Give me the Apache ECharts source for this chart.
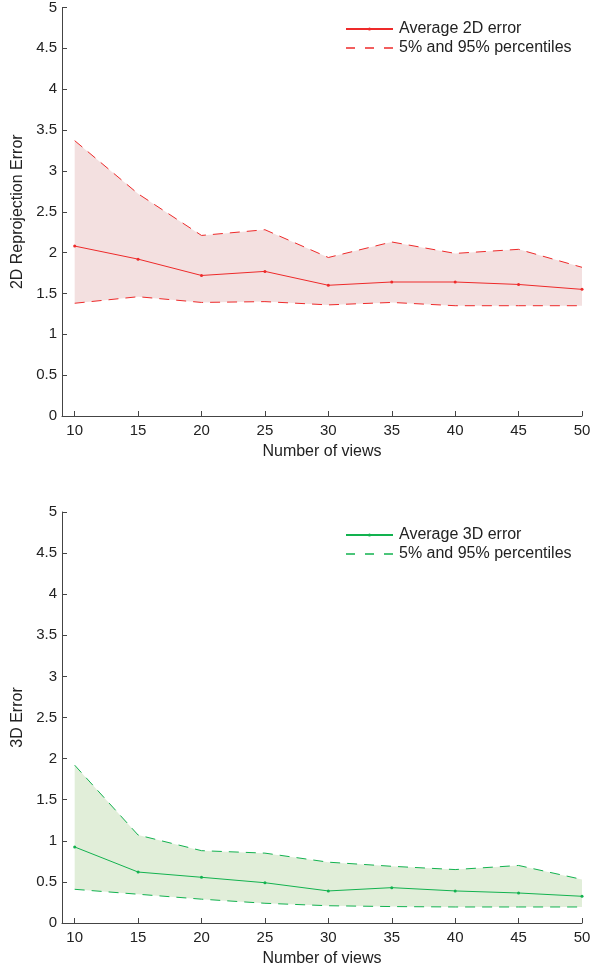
<!DOCTYPE html>
<html>
<head>
<meta charset="utf-8">
<script src="https://cdn.jsdelivr.net/npm/echarts@6/dist/echarts.min.js"></script>
<style>
  html, body { margin: 0; padding: 0; background: #fff; }
  #chart { width: 608px; height: 968px; }
</style>
</head>
<body>
<div id="chart"></div>
<script>
// number of views
const views = [10, 15, 20, 25, 30, 35, 40, 45, 50];

// 2D reprojection error
const mean2d = [2.08, 1.92, 1.72, 1.77, 1.60, 1.64, 1.64, 1.61, 1.55];
const upper2d = [3.37, 2.72, 2.21, 2.28, 1.94, 2.13, 1.99, 2.04, 1.82];
const lower2d = [1.38, 1.46, 1.39, 1.40, 1.36, 1.39, 1.35, 1.35, 1.35];

// 3D error
const mean3d = [0.925, 0.62, 0.556, 0.49, 0.39, 0.43, 0.39, 0.365, 0.325];
const upper3d = [1.92, 1.07, 0.88, 0.85, 0.74, 0.69, 0.65, 0.70, 0.53];
const lower3d = [0.41, 0.35, 0.29, 0.24, 0.21, 0.20, 0.195, 0.195, 0.195];

const FONT = "Liberation Sans";
const axisColor = "#444";
const PCT = "5% and 95% percentiles";
const RED = "#ee2a2a";
const GREEN = "#12b24f";

function pairs(ys) {
  return views.map((x, i) => [x, ys[i]]);
}

function xAxisOf(gridIndex) {
  return {
    type: "value",
    gridIndex: gridIndex,
    min: 9,
    max: 50,
    name: "Number of views",
    nameLocation: "middle",
    nameGap: 28,
    nameTextStyle: { color: "#222", fontSize: 16, fontFamily: FONT },
    axisLine: { lineStyle: { color: axisColor } },
    axisTick: { inside: true, length: 5, customValues: views, lineStyle: { color: axisColor } },
    axisLabel: { customValues: views, color: "#222", fontSize: 15, fontFamily: FONT, margin: 7 },
    splitLine: { show: false },
  };
}

function yAxisOf(gridIndex, name) {
  return {
    type: "value",
    gridIndex: gridIndex,
    min: 0,
    max: 5,
    interval: 0.5,
    name: name,
    nameLocation: "middle",
    nameGap: 29,
    nameTextStyle: { color: "#222", fontSize: 16, fontFamily: FONT },
    axisLine: { show: true, lineStyle: { color: axisColor } },
    axisTick: { show: true, inside: true, length: 5, lineStyle: { color: axisColor } },
    axisLabel: { color: "#222", fontSize: 15, fontFamily: FONT, margin: 5 },
    splitLine: { show: false },
  };
}

// shaded band between the 5% and 95% curves
function bandRender(lower, upper, fill) {
  return function (params, api) {
    if (params.dataIndex !== 0) return;
    const pts = [];
    for (let i = 0; i < views.length; i++) pts.push(api.coord([views[i], upper[i]]));
    for (let i = views.length - 1; i >= 0; i--) pts.push(api.coord([views[i], lower[i]]));
    return {
      type: "polygon",
      shape: { points: pts },
      style: { fill: fill },
      silent: true,
    };
  };
}

function bandSeries(idx, mean, upper, lower, color, fill, meanName, pctName) {
  return [
    {
      name: "band" + idx,
      type: "custom",
      xAxisIndex: idx,
      yAxisIndex: idx,
      data: views.map((x, i) => [x, lower[i], upper[i]]),
      encode: { x: 0, y: [1, 2] },
      renderItem: bandRender(lower, upper, fill),
      silent: true,
      z: 1,
    },
    {
      name: pctName,
      type: "line",
      xAxisIndex: idx,
      yAxisIndex: idx,
      data: pairs(upper),
      symbol: "none",
      lineStyle: { color: color, width: 1, type: [10, 7] },
      itemStyle: { color: color },
      z: 2,
    },
    {
      name: pctName,
      type: "line",
      xAxisIndex: idx,
      yAxisIndex: idx,
      data: pairs(lower),
      symbol: "none",
      lineStyle: { color: color, width: 1, type: [10, 7] },
      itemStyle: { color: color },
      z: 2,
    },
    {
      name: meanName,
      type: "line",
      xAxisIndex: idx,
      yAxisIndex: idx,
      data: pairs(mean),
      symbol: "circle",
      symbolSize: 3,
      showSymbol: true,
      lineStyle: { color: color, width: 1 },
      itemStyle: { color: color },
      z: 3,
    },
  ];
}

function legendOf(top, meanName, pctName, color) {
  return {
    orient: "vertical",
    left: 345,
    top: top,
    padding: 0,
    itemWidth: 47,
    itemHeight: 4,
    itemGap: 3,
    data: [
      { name: meanName },
      {
        name: pctName,
        itemStyle: { color: "rgba(0,0,0,0)", borderWidth: 0 },
        lineStyle: { type: [9, 10], width: 1.4, color: color, opacity: 1 },
      },
    ],
    formatter: (n) => (n.indexOf("5%") === 0 ? PCT : n),
    textStyle: { color: "#222", fontSize: 16, lineHeight: 16, fontFamily: FONT, padding: [0, 0, 0, 1] },
    selectedMode: false,
  };
}

const chart = echarts.init(document.getElementById("chart"));

const option = {
  animation: false,
  backgroundColor: "#fff",
  grid: [
    { left: 62, right: 26, top: 6, height: 410 },
    { left: 62, right: 26, top: 512, height: 411 },
  ],
  xAxis: [xAxisOf(0), xAxisOf(1)],
  yAxis: [yAxisOf(0, "2D Reprojection Error"), yAxisOf(1, "3D Error")],
  legend: [
    legendOf(21, "Average 2D error", PCT, RED),
    legendOf(527, "Average 3D error", PCT + " ", GREEN),
  ],
  series: [
    ...bandSeries(0, mean2d, upper2d, lower2d, RED, "#f3e0e0", "Average 2D error", PCT),
    ...bandSeries(1, mean3d, upper3d, lower3d, GREEN, "#e1eed9", "Average 3D error", PCT + " "),
  ],
};

chart.setOption(option);
</script>
</body>
</html>
